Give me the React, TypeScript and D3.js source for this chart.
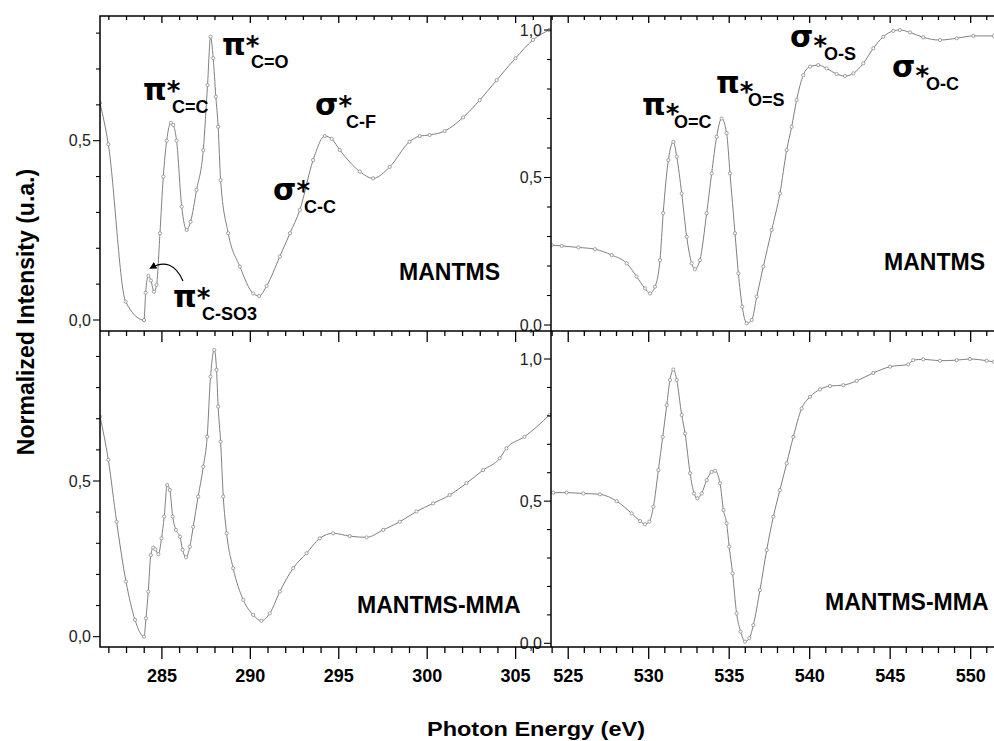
import * as d3 from "d3";

// ---- data ----
// C K-edge, MANTMS
const cMantmsE = [281.5, 281.97, 282.95, 283.99, 284.08, 284.23, 284.38, 284.55, 284.7, 284.89, 285.08, 285.27, 285.51, 285.64, 285.83, 286.12, 286.4, 286.62, 286.96, 287.34, 287.58, 287.75, 287.9, 288.05, 288.18, 288.32, 288.75, 289.41, 290.16, 290.5, 290.92, 291.67, 292.24, 292.8, 293.55, 294.21, 294.6, 295.06, 296.19, 296.94, 297.88, 299.0, 299.58, 300.14, 300.99, 302.03, 302.97, 303.93, 304.99, 305.98, 306.9];
const cMantmsI = [0.605, 0.49, 0.051, 0.0, 0.076, 0.123, 0.11, 0.079, 0.098, 0.242, 0.4, 0.5, 0.55, 0.544, 0.5, 0.316, 0.251, 0.274, 0.363, 0.474, 0.655, 0.79, 0.73, 0.623, 0.539, 0.39, 0.242, 0.149, 0.074, 0.067, 0.095, 0.177, 0.242, 0.307, 0.446, 0.513, 0.505, 0.474, 0.414, 0.395, 0.427, 0.497, 0.513, 0.516, 0.527, 0.565, 0.613, 0.669, 0.73, 0.781, 0.809];

// C K-edge, MANTMS-MMA
const cMmaE = [281.5, 281.97, 282.44, 282.97, 283.48, 283.99, 284.1, 284.23, 284.37, 284.51, 284.63, 284.8, 284.98, 285.13, 285.3, 285.45, 285.61, 285.79, 286.02, 286.17, 286.36, 286.58, 286.77, 287.05, 287.34, 287.56, 287.75, 287.96, 288.09, 288.18, 288.32, 288.47, 288.66, 289.03, 289.6, 290.16, 290.63, 291.1, 291.67, 292.42, 293.18, 293.93, 294.68, 295.62, 296.57, 297.51, 298.45, 299.39, 300.33, 301.27, 302.22, 303.16, 304.1, 304.48, 305.5, 306.92];
const cMmaI = [0.707, 0.568, 0.369, 0.177, 0.054, 0.0, 0.059, 0.145, 0.262, 0.286, 0.281, 0.265, 0.316, 0.386, 0.487, 0.471, 0.386, 0.343, 0.321, 0.279, 0.255, 0.289, 0.353, 0.45, 0.546, 0.642, 0.835, 0.921, 0.857, 0.739, 0.626, 0.45, 0.332, 0.22, 0.118, 0.07, 0.051, 0.075, 0.145, 0.22, 0.268, 0.316, 0.332, 0.323, 0.319, 0.343, 0.369, 0.402, 0.428, 0.455, 0.493, 0.535, 0.573, 0.605, 0.642, 0.712];

// O K-edge, MANTMS
const oMantmsE = [523.97, 524.6, 525.63, 526.66, 527.7, 528.63, 529.25, 529.77, 530.08, 530.39, 530.7, 530.9, 531.22, 531.53, 531.74, 532.05, 532.36, 532.67, 532.87, 533.18, 533.6, 533.91, 534.22, 534.53, 534.84, 535.05, 535.36, 535.57, 535.81, 536.09, 536.4, 536.71, 537.12, 537.64, 538.15, 538.57, 538.88, 539.19, 539.6, 540.02, 540.53, 541.05, 541.67, 542.19, 542.71, 543.33, 543.95, 544.57, 545.19, 545.6, 546.23, 547.05, 548.09, 549.13, 550.16, 551.44];
const oMantmsI = [0.271, 0.268, 0.263, 0.257, 0.237, 0.209, 0.164, 0.124, 0.107, 0.13, 0.22, 0.379, 0.559, 0.621, 0.571, 0.446, 0.299, 0.209, 0.189, 0.22, 0.379, 0.514, 0.638, 0.7, 0.65, 0.514, 0.311, 0.175, 0.062, 0.006, 0.017, 0.096, 0.198, 0.322, 0.446, 0.593, 0.672, 0.763, 0.847, 0.876, 0.881, 0.87, 0.851, 0.844, 0.853, 0.887, 0.938, 0.977, 0.997, 1.0, 0.992, 0.975, 0.966, 0.972, 0.98, 0.98];

// O K-edge, MANTMS-MMA
const oMmaE = [524.07, 524.9, 525.94, 526.97, 528.01, 528.94, 529.46, 529.77, 530.04, 530.29, 530.6, 530.87, 531.12, 531.32, 531.53, 531.74, 532.05, 532.26, 532.57, 532.82, 533.02, 533.29, 533.6, 533.91, 534.12, 534.43, 534.64, 534.84, 535.0, 535.21, 535.46, 535.71, 535.98, 536.25, 536.5, 536.91, 537.33, 537.74, 538.15, 538.57, 538.98, 539.5, 540.02, 540.64, 541.26, 542.09, 542.92, 543.95, 544.99, 546.12, 546.43, 547.05, 548.09, 549.13, 549.95, 550.99, 551.44];
const oMmaI = [0.53, 0.53, 0.527, 0.524, 0.5, 0.457, 0.43, 0.419, 0.428, 0.48, 0.609, 0.726, 0.838, 0.926, 0.963, 0.926, 0.803, 0.738, 0.598, 0.527, 0.51, 0.527, 0.574, 0.603, 0.607, 0.563, 0.469, 0.422, 0.34, 0.246, 0.105, 0.041, 0.006, 0.018, 0.064, 0.187, 0.328, 0.445, 0.539, 0.633, 0.726, 0.826, 0.867, 0.893, 0.905, 0.908, 0.923, 0.951, 0.973, 0.981, 0.996, 0.999, 0.994, 0.996, 1.0, 0.994, 0.99];

const cTicks = [285, 290, 295, 300, 305];
const oTicks = [525, 530, 535, 540, 545, 550];
const leftYTicks = [0, 0.5];
const rightYTicks = [0, 0.5, 1.0];

// ---- layout ----
const W = 994;
const H = 741;
const L = 100;
const MID = 551;
const R = 994;
const TOP = 16;
const DIV = 331;
const BOT = 647;
const FONT = "'Liberation Sans', Arial, Helvetica, sans-serif";
const GREEK = "'DejaVu Sans', 'Liberation Sans', sans-serif";
const LINE = "#808080";

const xC = d3.scaleLinear().domain([281.5, 307.0]).range([L, MID]);
const xO = d3.scaleLinear().domain([523.93, 551.45]).range([MID, R]);
const yTL = d3.scaleLinear().domain([-0.0307, 0.8478]).range([DIV, TOP]);
const yBL = d3.scaleLinear().domain([-0.0331, 0.9817]).range([BOT, DIV]);
const yTR = d3.scaleLinear().domain([-0.0203, 1.0475]).range([DIV, TOP]);
const yBR = d3.scaleLinear().domain([-0.013, 1.0985]).range([BOT, DIV]);

const fmt = (v: number) => d3.format(".1f")(v).replace(".", ",");

type Panel = {
  id: string;
  x: d3.ScaleLinear<number, number>;
  y: d3.ScaleLinear<number, number>;
  e: number[];
  v: number[];
  yTicks: number[];
  top: number;
  bottom: number;
  left: number;
  right: number;
  tickBig: number;
  tickSmall: number;
};

const panels: Panel[] = [
  { id: "tl", x: xC, y: yTL, e: cMantmsE, v: cMantmsI, yTicks: leftYTicks, top: TOP, bottom: DIV, left: L, right: MID, tickBig: 7, tickSmall: 4 },
  { id: "bl", x: xC, y: yBL, e: cMmaE, v: cMmaI, yTicks: leftYTicks, top: DIV, bottom: BOT, left: L, right: MID, tickBig: 11, tickSmall: 5 },
  { id: "tr", x: xO, y: yTR, e: oMantmsE, v: oMantmsI, yTicks: rightYTicks, top: TOP, bottom: DIV, left: MID, right: R, tickBig: 7, tickSmall: 4 },
  { id: "br", x: xO, y: yBR, e: oMmaE, v: oMmaI, yTicks: rightYTicks, top: DIV, bottom: BOT, left: MID, right: R, tickBig: 11, tickSmall: 5 },
];

function PanelView({ p }: { p: Panel }) {
  const pts = p.e.map((e, i) => [e, p.v[i]] as [number, number]);
  const line = d3
    .line<[number, number]>()
    .x((d) => p.x(d[0]))
    .y((d) => p.y(d[1]))
    .curve(d3.curveMonotoneX);
  const [x0, x1] = p.x.domain();
  const minorX = d3.range(Math.ceil(x0), x1, 1);
  const y1 = p.y.domain()[1];
  const minorY = d3.range(0, y1 + 1e-9, 0.1);
  const isMajorX = (v: number) => v % 5 === 0;
  const isMajorY = (v: number) => Math.abs(v * 2 - Math.round(v * 2)) < 1e-6;

  return (
    <g>
      <clipPath id={`clip-${p.id}`}>
        <rect x={p.left} y={p.top} width={p.right - p.left} height={p.bottom - p.top} />
      </clipPath>
      <g clipPath={`url(#clip-${p.id})`}>
        <path d={line(pts) || ""} fill="none" stroke={LINE} strokeWidth={1} />
        {pts.map((d, i) => (
          <circle key={i} cx={p.x(d[0])} cy={p.y(d[1])} r={1.6} fill="#fff" stroke="#8a8a8a" strokeWidth={0.8} />
        ))}
      </g>
      {/* top ticks, pointing in */}
      {minorX.map((v) => (
        <line
          key={`tx${v}`}
          x1={p.x(v)}
          x2={p.x(v)}
          y1={p.top}
          y2={p.top + (isMajorX(v) ? p.tickBig : p.tickSmall)}
          stroke="#000"
          strokeWidth={1.3}
        />
      ))}
      {/* left y ticks, pointing out */}
      {minorY.map((v) => (
        <line
          key={`ty${v}`}
          x1={p.left - (isMajorY(v) ? 7 : 4)}
          x2={p.left}
          y1={p.y(v)}
          y2={p.y(v)}
          stroke="#000"
          strokeWidth={1.1}
        />
      ))}
      {p.yTicks.map((v) => (
        <text
          key={`yl${v}`}
          x={p.left - 9}
          y={p.y(v)}
          dy="0.36em"
          textAnchor="end"
          fontSize={16}
          fill="#222"
          fontFamily={FONT}
        >
          {fmt(v)}
        </text>
      ))}
    </g>
  );
}

function BottomAxis({ x, major }: { x: d3.ScaleLinear<number, number>; major: number[] }) {
  const [x0, x1] = x.domain();
  const minor = d3.range(Math.ceil(x0), x1, 1);
  return (
    <g>
      {minor.map((v) => (
        <line
          key={v}
          x1={x(v)}
          x2={x(v)}
          y1={BOT}
          y2={BOT + (v % 5 === 0 ? 12 : 6)}
          stroke="#000"
          strokeWidth={1.3}
        />
      ))}
      {major.map((v) => (
        <text key={`l${v}`} x={x(v)} y={682} textAnchor="middle" fontSize={18} fontWeight="bold" fontFamily={FONT}>
          {v}
        </text>
      ))}
    </g>
  );
}

// peak label: greek letter, star and subscript in one text
function Peak({ x, y, g, sub, starDy = 0, subDx = 29 }: { x: number; y: number; g: string; sub: string; starDy?: number; subDx?: number }) {
  return (
    <text x={x} y={y} fontWeight="bold" fill="#000" fontFamily={GREEK}>
      <tspan fontSize={30}>{g}</tspan>
      <tspan dx={0} dy={starDy} fontSize={26}>
        *
      </tspan>
      <tspan x={x + subDx} y={y + 13} fontSize={18} fontFamily={FONT}>
        {sub}
      </tspan>
    </text>
  );
}

export default function App() {
  const arrowStart: [number, number] = [xC(286.19), yTL(0.109)];
  const arrowCtrl: [number, number] = [xC(285.57), yTL(0.178)];
  const arrowTip: [number, number] = [xC(284.36), yTL(0.145)];
  const ap = d3.path();
  ap.moveTo(...arrowStart);
  ap.quadraticCurveTo(arrowCtrl[0], arrowCtrl[1], arrowTip[0], arrowTip[1]);

  return (
    <div style={{ position: "absolute", left: 0, top: 0 }}>
      <svg width={W} height={H} style={{ display: "block", background: "#fff" }}>
        <defs>
          <marker id="arr" viewBox="0 0 10 10" refX="8" refY="5" markerWidth="6" markerHeight="6" orient="auto">
            <path d="M0,0 L10,5 L0,10 z" fill="#000" />
          </marker>
        </defs>
        <rect x={0} y={0} width={W} height={H} fill="#fff" />

        {panels.map((p) => (
          <PanelView key={p.id} p={p} />
        ))}

        {/* frames */}
        <rect x={L} y={TOP} width={R + 2 - L} height={BOT - TOP} fill="none" stroke="#000" strokeWidth={1.5} />
        <line x1={L} x2={R} y1={DIV} y2={DIV} stroke="#000" strokeWidth={1.5} />
        <line x1={MID} x2={MID} y1={TOP} y2={BOT} stroke="#000" strokeWidth={1.5} />

        <BottomAxis x={xC} major={cTicks} />
        <BottomAxis x={xO} major={oTicks} />

        {/* C edge labels */}
        <Peak x={143} y={100} g="π" sub="C=C" subDx={29} />
        <Peak x={222} y={55} g="π" sub="C=O" />
        <Peak x={315} y={115} g="σ" sub="C-F" subDx={31} />
        <Peak x={273} y={200} g="σ" sub="C-C" subDx={31} />
        <Peak x={173} y={307} g="π" sub="C-SO3" />
        <path d={ap.toString()} fill="none" stroke="#000" strokeWidth={1.2} markerEnd="url(#arr)" />

        {/* O edge labels */}
        <Peak x={642} y={115} g="π" sub="O=C" starDy={8} subDx={32} />
        <Peak x={716} y={93} g="π" sub="O=S" starDy={8} subDx={32} />
        <Peak x={790} y={47} g="σ" sub="O-S" starDy={8} subDx={34} />
        <Peak x={892} y={77} g="σ" sub="O-C" starDy={8} subDx={34} />

        <text x={500} y={280} textAnchor="end" fontSize={23} fontWeight="bold" fontFamily={FONT}>
          MANTMS
        </text>
        <text x={985} y={270} textAnchor="end" fontSize={23} fontWeight="bold" fontFamily={FONT}>
          MANTMS
        </text>
        <text x={357} y={613} fontSize={23} fontWeight="bold" fontFamily={FONT}>
          MANTMS-MMA
        </text>
        <text x={825} y={610} fontSize={23} fontWeight="bold" fontFamily={FONT}>
          MANTMS-MMA
        </text>

        {/* axis titles */}
        <text
          transform="translate(34,312) rotate(-90)"
          textAnchor="middle"
          fontSize={23}
          fontWeight="bold"
          fontFamily={FONT}
        >
          Normalized Intensity (u.a.)
        </text>
        <text
          x={427}
          y={736}
          fontSize={20}
          fontWeight="bold"
          fontFamily={FONT}
          textLength={218}
          lengthAdjust="spacingAndGlyphs"
        >
          Photon Energy (eV)
        </text>
      </svg>
    </div>
  );
}
